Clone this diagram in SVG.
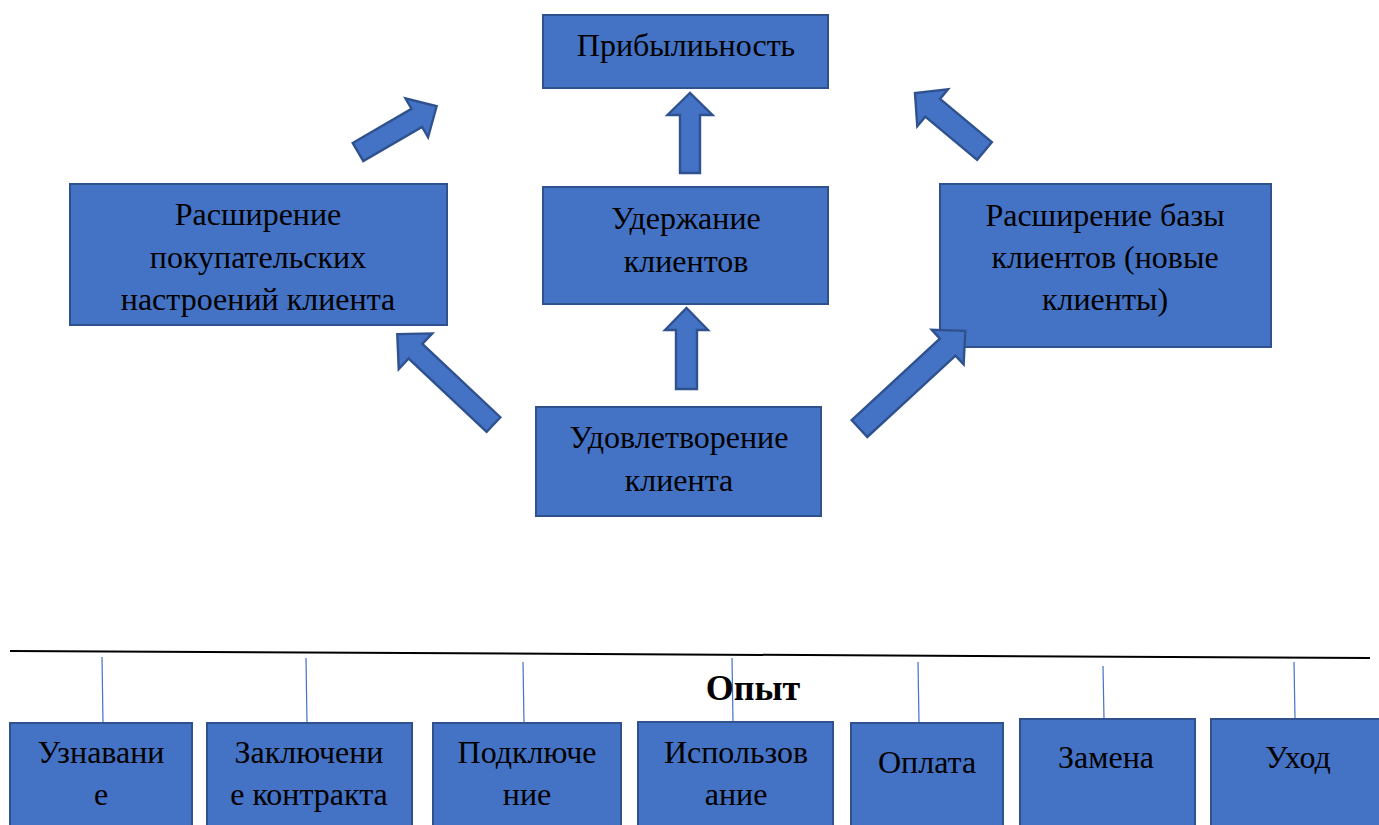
<svg xmlns="http://www.w3.org/2000/svg" width="1379" height="825" viewBox="0 0 1379 825">
  <style>
    .box { fill: #4472C4; stroke: #2F528F; stroke-width: 2; }
    .arrow { fill: #4472C4; stroke: #2F528F; stroke-width: 2.4; stroke-linejoin: miter; }
    .lbl { font-family: "Liberation Serif", "Times New Roman", serif; font-size: 32px; fill: #000; text-anchor: middle; }
    .lbl2 { font-family: "Liberation Serif", "Times New Roman", serif; font-size: 32px; fill: #000; text-anchor: middle; }
    .tick { stroke: #4472C4; stroke-width: 1.2; }
  </style>
  <rect width="1379" height="825" fill="#FFFFFF"/>

  <!-- upper value chain -->
  <g id="node-profit">
    <rect class="box" x="543" y="15" width="285" height="73"/>
    <text class="lbl" x="686" y="56">Прибылиьность</text>
  </g>
  <g id="node-upsell">
    <rect class="box" x="70" y="184" width="377" height="141"/>
    <text class="lbl" x="258" y="225">Расширение</text>
    <text class="lbl" x="258" y="268">покупательских</text>
    <text class="lbl" x="258" y="310">настроений клиента</text>
  </g>
  <g id="node-retention">
    <rect class="box" x="543" y="187" width="285" height="117"/>
    <text class="lbl" x="686" y="229">Удержание</text>
    <text class="lbl" x="686" y="272">клиентов</text>
  </g>
  <g id="node-newclients">
    <rect class="box" x="940" y="184" width="331" height="163"/>
    <text class="lbl" x="1105" y="226">Расширение базы</text>
    <text class="lbl" x="1105" y="268">клиентов (новые</text>
    <text class="lbl" x="1105" y="310">клиенты)</text>
  </g>
  <g id="node-satisfaction">
    <rect class="box" x="536" y="407" width="285" height="109"/>
    <text class="lbl" x="679" y="448">Удовлетворение</text>
    <text class="lbl" x="679" y="491">клиента</text>
  </g>

  <!-- block arrows -->
  <g id="connectors">
    <polygon class="arrow" transform="translate(358,152) rotate(-30.2)" points="0,-10.5 68,-10.5 68,-22.5 91,0 68,22.5 68,10.5 0,10.5"/>
    <polygon class="arrow" transform="translate(984.5,151) rotate(-140.2)" points="0,-11.5 67.5,-11.5 67.5,-24 90.5,0 67.5,24 67.5,11.5 0,11.5"/>
    <polygon class="arrow" transform="translate(493.5,424.5) rotate(-136.8)" points="0,-10 107,-10 107,-24.5 132,0 107,24.5 107,10 0,10"/>
    <polygon class="arrow" transform="translate(859.5,428.5) rotate(-42.7)" points="0,-11.5 120,-11.5 120,-23.5 144,0 120,23.5 120,11.5 0,11.5"/>
    <polygon class="arrow" transform="translate(690,173) rotate(-90)" points="0,-10 58,-10 58,-22.5 80,0 58,22.5 58,10 0,10"/>
    <polygon class="arrow" transform="translate(686.5,389) rotate(-90)" points="0,-10.5 59,-10.5 59,-21.5 81,0 59,21.5 59,10.5 0,10.5"/>
  </g>

  <!-- experience timeline -->
  <g id="timeline">
    <line x1="10" y1="651" x2="1370" y2="658" stroke="#000" stroke-width="2"/>
    <line class="tick" x1="102" y1="657" x2="103" y2="723"/>
    <line class="tick" x1="306" y1="658" x2="307" y2="723"/>
    <line class="tick" x1="523" y1="662" x2="524" y2="723"/>
    <line class="tick" x1="732" y1="658" x2="733" y2="722"/>
    <line class="tick" x1="918" y1="662" x2="919" y2="723"/>
    <line class="tick" x1="1103" y1="666" x2="1104" y2="719"/>
    <line class="tick" x1="1294" y1="662" x2="1295" y2="719"/>
    <text x="753" y="700" font-family="Liberation Serif, Times New Roman, serif" font-size="36" font-weight="bold" text-anchor="middle">Опыт</text>
  </g>

  <g id="stage-awareness">
    <rect class="box" x="10" y="723" width="182" height="120"/>
    <text class="lbl2" x="101" y="763">Узнавани</text>
    <text class="lbl2" x="101" y="805">е</text>
  </g>
  <g id="stage-contract">
    <rect class="box" x="207" y="723" width="205" height="120"/>
    <text class="lbl2" x="309" y="763">Заключени</text>
    <text class="lbl2" x="309" y="805">е контракта</text>
  </g>
  <g id="stage-onboarding">
    <rect class="box" x="433" y="723" width="188" height="120"/>
    <text class="lbl2" x="527" y="763">Подключе</text>
    <text class="lbl2" x="527" y="805">ние</text>
  </g>
  <g id="stage-usage">
    <rect class="box" x="638" y="722" width="195" height="120"/>
    <text class="lbl2" x="736" y="763">Использов</text>
    <text class="lbl2" x="736" y="805">ание</text>
  </g>
  <g id="stage-payment">
    <rect class="box" x="851" y="723" width="152" height="120"/>
    <text class="lbl2" x="927" y="773">Оплата</text>
  </g>
  <g id="stage-replacement">
    <rect class="box" x="1020" y="719" width="175" height="120"/>
    <text class="lbl2" x="1106" y="768">Замена</text>
  </g>
  <g id="stage-exit">
    <rect class="box" x="1211" y="719" width="180" height="120"/>
    <text class="lbl2" x="1298" y="768">Уход</text>
  </g>
</svg>
